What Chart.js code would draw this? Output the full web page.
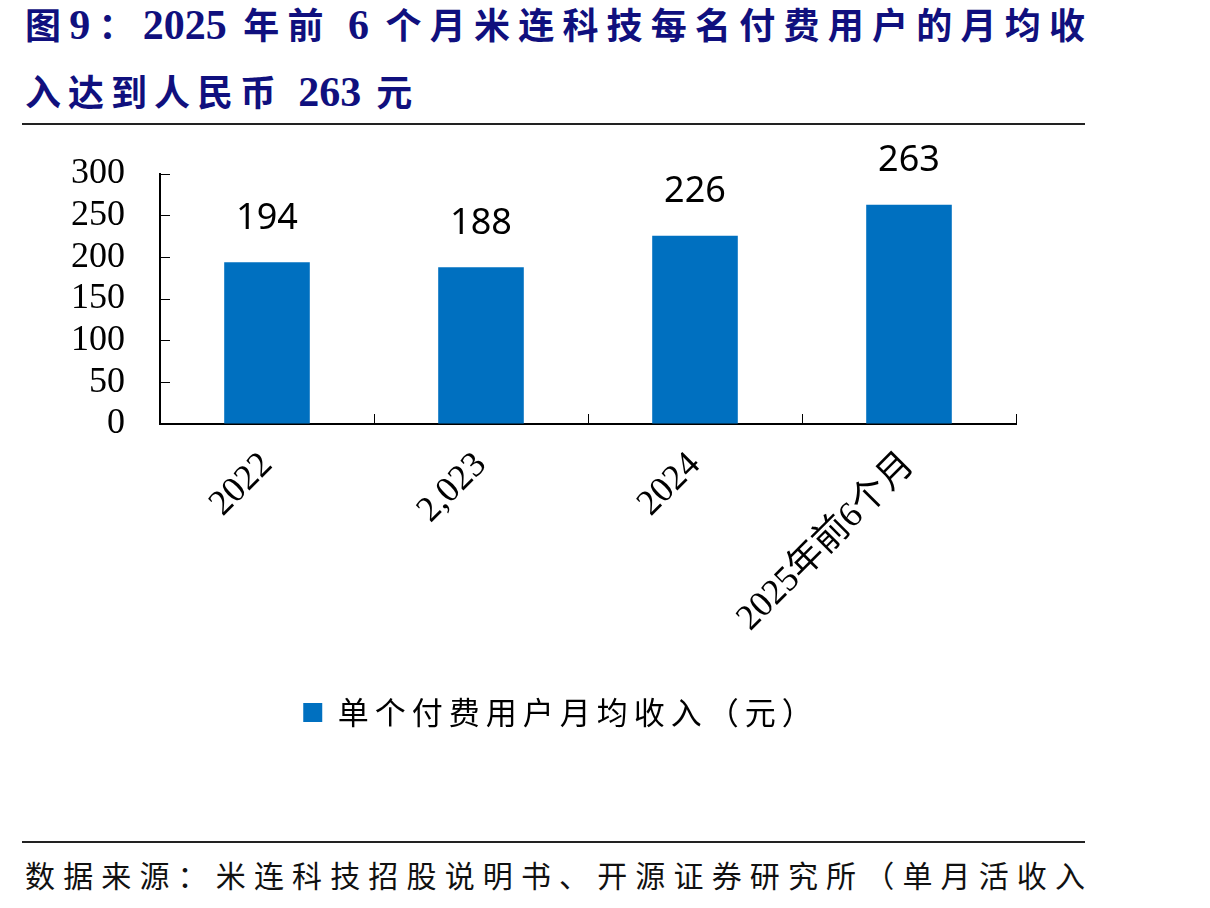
<!DOCTYPE html>
<html>
<head>
<meta charset="utf-8">
<script src="https://cdn.jsdelivr.net/npm/chart.js@4"></script>
<style>
  body { margin: 0; background: #fff; width: 1210px; height: 908px; position: relative; overflow: hidden; }
  .title { position: absolute; left: 25px; color: #10107e; font: bold 36px "Noto Sans CJK SC", sans-serif; white-space: nowrap; line-height: 50px; }
  .title b { font: bold 42px "Liberation Serif", serif; letter-spacing: 0; }
  #t1 { top: -2px; width: 1060px; text-align: justify; text-align-last: justify; }
  #t2 { top: 65px; letter-spacing: 7px; }
  .rule { position: absolute; left: 22px; width: 1063px; height: 2px; background: #222; }
  #foot { position: absolute; left: 25px; top: 852px; width: 1060px; font: 30px "Noto Sans CJK SC", sans-serif; color: #111; text-align: justify; text-align-last: justify; white-space: nowrap; }
  #c { position: absolute; left: 0; top: 130px; }
</style>
</head>
<body>
<div class="title" id="t1">图<b>9</b>：<b>2025</b> 年前 <b>6</b> 个月米连科技每名付费用户的月均收</div>
<div class="title" id="t2">入达到人民币 <b>263</b> 元</div>
<div class="rule" style="top:123px"></div>
<canvas id="c" width="1122" height="608"></canvas>
<div class="rule" style="top:841px"></div>
<div id="foot">数据来源：米连科技招股说明书、开源证券研究所（单月活收入</div>
<script>
var categories = ["2022", "2,023", "2024", "2025年前6个月"];
var revenue = [194, 188, 226, 263];
var yTicks = [0, 50, 100, 150, 200, 250, 300];
var seriesName = "单个付费用户月均收入（元）";

var serif = '"Liberation Serif", "Noto Sans CJK SC", serif';

// numbers above the bars
var barLabels = {
    id: 'barLabels',
    afterDatasetsDraw: function (chart) {
        var ctx = chart.ctx;
        var meta = chart.getDatasetMeta(0);
        ctx.save();
        ctx.font = '36px "Noto Sans", sans-serif';
        ctx.fillStyle = '#000';
        ctx.textAlign = 'center';
        ctx.textBaseline = 'middle';
        meta.data.forEach(function (bar, i) {
            ctx.fillText(revenue[i], bar.x, bar.y - 44);
        });
        ctx.restore();
    }
};

// legend text in the original is widely spaced
var legendSpacing = {
    id: 'legendSpacing',
    beforeUpdate: function (chart) {
        var lg = chart.legend;
        if (!lg || lg._spaced) return;
        lg._spaced = true;
        var fit = lg.fit, draw = lg.draw;
        lg.fit = function () {
            chart.ctx.letterSpacing = '6px';
            fit.apply(this, arguments);
            chart.ctx.letterSpacing = '0px';
        };
        lg.draw = function () {
            chart.ctx.letterSpacing = '6px';
            draw.apply(this, arguments);
            chart.ctx.letterSpacing = '0px';
        };
    }
};

new Chart(document.getElementById("c"), {
    type: 'bar',
    data: {
        labels: categories,
        datasets: [{
            label: seriesName,
            data: revenue,
            backgroundColor: '#0070C0',
            borderWidth: 0,
            categoryPercentage: 1,
            barPercentage: 0.4
        }]
    },
    options: {
        responsive: false,
        animation: false,
        layout: { padding: { top: 44, right: 0, left: 0, bottom: 0 } },
        plugins: {
            legend: {
                position: 'bottom',
                labels: {
                    boxWidth: 19,
                    boxHeight: 19,
                    padding: 10,
                    color: '#000',
                    font: { family: '"Noto Sans CJK SC", sans-serif', size: 31 }
                }
            },
            tooltip: { enabled: false }
        },
        scales: {
            x: {
                grid: { drawOnChartArea: false, drawTicks: true, tickLength: -10, color: '#000' },
                border: { color: '#000', width: 2 },
                ticks: {
                    color: '#000',
                    maxRotation: 45,
                    minRotation: 45,
                    padding: 30,
                    font: { family: serif, size: 36 }
                },
                afterFit: function (scale) {
                    scale.height = 263;
                    scale.paddingRight = 106;
                }
            },
            y: {
                min: 0,
                max: 300,
                afterBuildTicks: function (scale) {
                    scale.ticks = yTicks.map(function (v) { return { value: v }; });
                },
                grid: { drawOnChartArea: false, drawTicks: true, tickLength: -10, color: '#000' },
                border: { color: '#000', width: 2 },
                ticks: {
                    color: '#000',
                    autoSkip: false,
                    padding: 45,
                    font: { family: serif, size: 36 }
                },
                afterFit: function (scale) {
                    scale.width = 160;
                    scale.paddingTop = 0;
                    scale.paddingBottom = 0;
                }
            }
        }
    },
    plugins: [barLabels, legendSpacing]
});
</script>
</body>
</html>
